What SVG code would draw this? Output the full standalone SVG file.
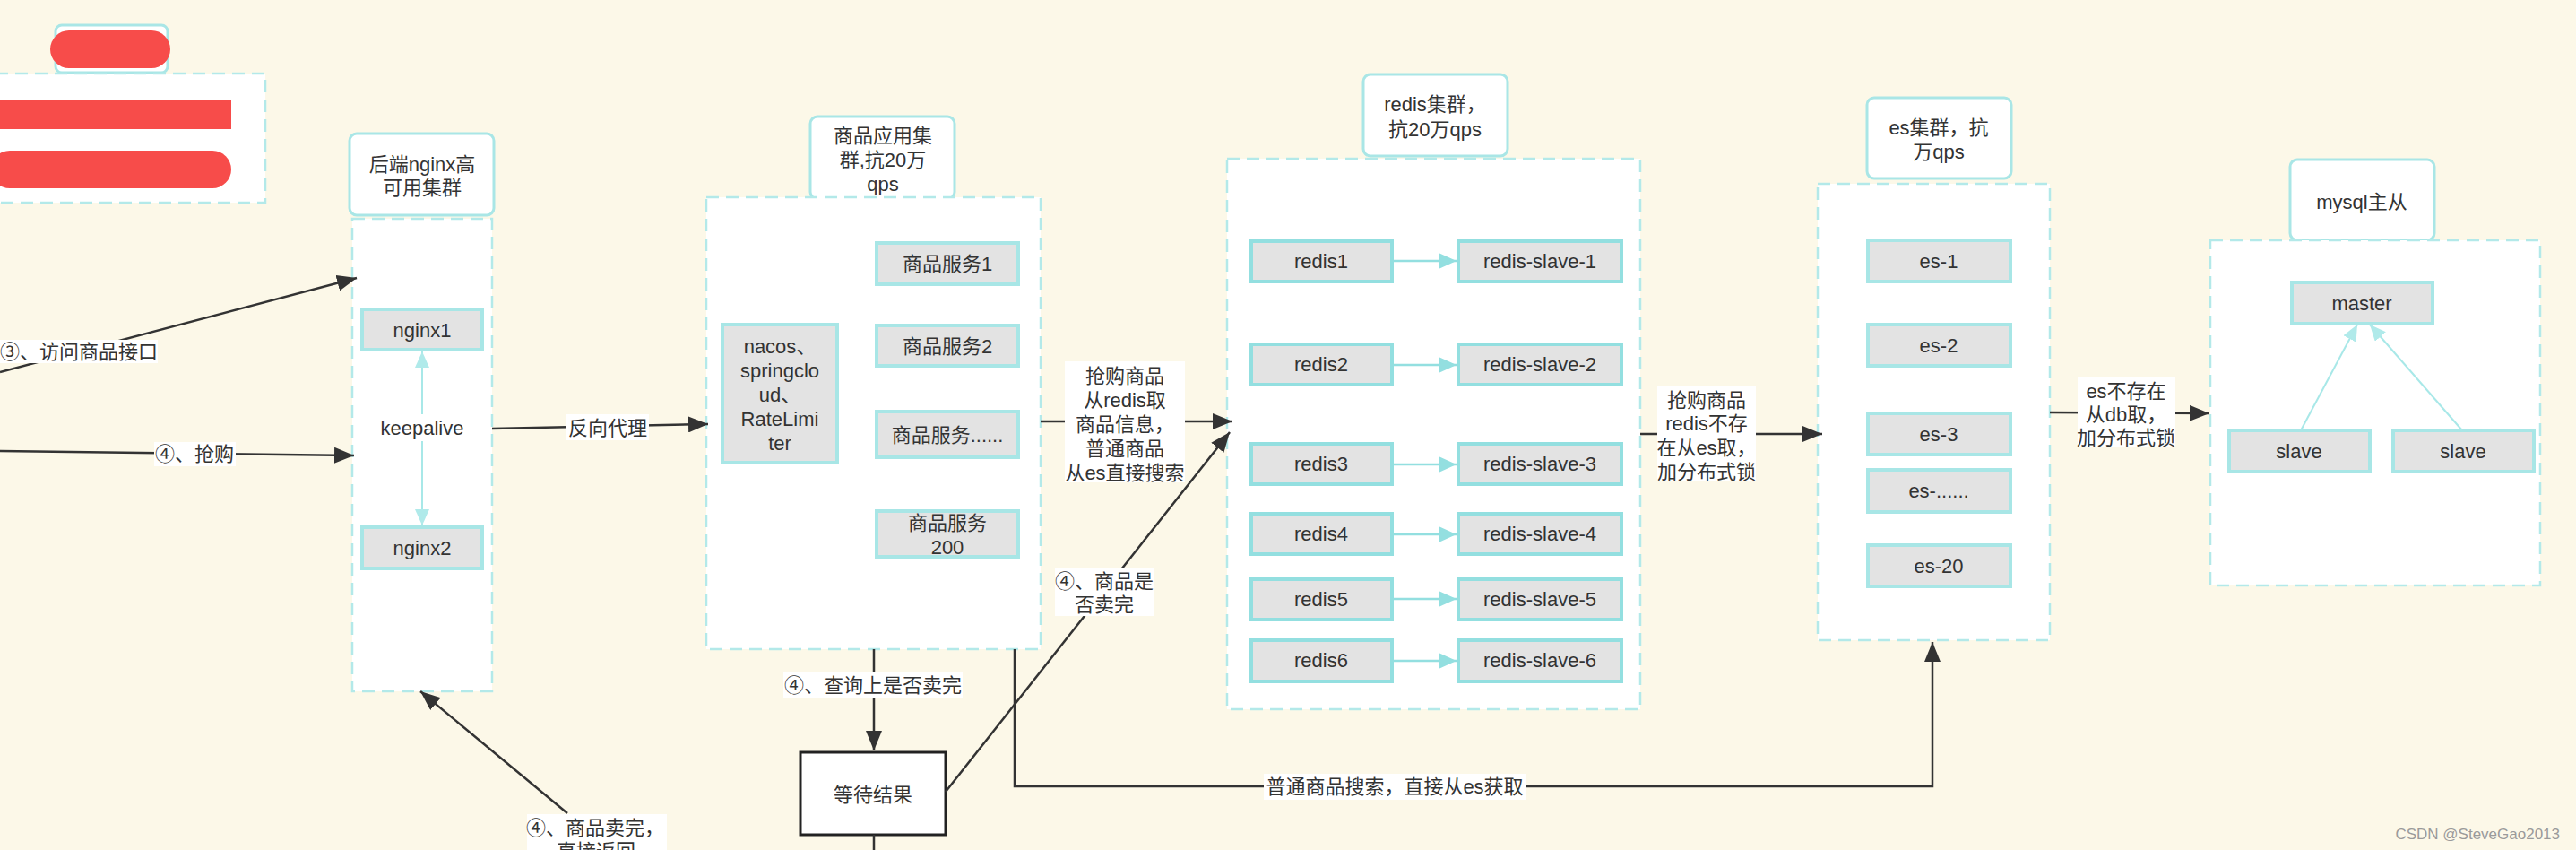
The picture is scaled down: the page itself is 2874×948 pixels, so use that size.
<svg xmlns="http://www.w3.org/2000/svg" width="2874" height="948" viewBox="0 0 2874 948">
<defs>
<style>
.t{font-family:"Liberation Sans","Noto Sans CJK SC",sans-serif;font-size:22px;fill:#333;text-anchor:middle}
.ts{text-anchor:start}
.cont{fill:#fff;stroke:#b3e9e9;stroke-width:2.5;stroke-dasharray:14 8}
.title{fill:#fff;stroke:#a9e6e6;stroke-width:3}
.node{fill:#e3e3e3;stroke:#a8e6e6;stroke-width:4}
.rnode{fill:#e3e3e3;stroke:#93dfe0;stroke-width:4}
.red{fill:#f74c4a}
.lb{fill:#fff}
.c{fill:none;stroke:#333;stroke-width:2.5}
.cy{fill:none;stroke:#a8e8e8;stroke-width:2}
.cr{fill:none;stroke:#93dfe0;stroke-width:2.5}
</style>
<marker id="ab" markerUnits="userSpaceOnUse" markerWidth="24" markerHeight="18" refX="22" refY="9" orient="auto"><path d="M0,0 L22,9 L0,18 Z" fill="#333"/></marker>
<marker id="ac" markerUnits="userSpaceOnUse" markerWidth="20" markerHeight="16" refX="18" refY="8" orient="auto-start-reverse"><path d="M0,0 L18,8 L0,16 Z" fill="#b0eaea"/></marker>
<marker id="ar" markerUnits="userSpaceOnUse" markerWidth="22" markerHeight="18" refX="20" refY="9" orient="auto"><path d="M0,0 L20,9 L0,18 Z" fill="#93dfe0"/></marker>
</defs>
<rect x="0" y="0" width="2874" height="948" fill="#fcf8e8"/>

<g id="redacted">
<rect class="title" x="62" y="28" width="125" height="53" rx="7"/>
<rect class="red" x="56" y="34" width="134" height="42" rx="21"/>
<rect class="cont" x="-5" y="82" width="301" height="144"/>
<rect class="red" x="-2" y="112" width="260" height="32"/>
<rect class="red" x="-10" y="168" width="268" height="42" rx="21"/>
</g>

<g id="nginx-cluster">
<rect class="title" x="390" y="149" width="161" height="91" rx="8"/>
<text class="t" x="471" y="191">后端nginx高</text>
<text class="t" x="471" y="217">可用集群</text>
<rect class="cont" x="393" y="244" width="156" height="527"/>
</g>
<g id="nginx1"><rect class="node" x="404" y="345" width="134" height="45"/><text class="t" x="471" y="376">nginx1</text></g>
<g id="nginx2"><rect class="node" x="404" y="588" width="134" height="46"/><text class="t" x="471" y="619">nginx2</text></g>

<g id="app-cluster">
<rect class="title" x="904" y="130" width="161" height="92" rx="8"/>
<text class="t" x="985" y="159">商品应用集</text>
<text class="t" x="985" y="186">群,抗20万</text>
<text class="t" x="985" y="213">qps</text>
<rect class="cont" x="788" y="220" width="373" height="504"/>
</g>
<g id="nacos"><rect class="node" x="806" y="362" width="128" height="154"/>
<text class="t" x="870" y="394">nacos、</text>
<text class="t" x="870" y="421">springclo</text>
<text class="t" x="870" y="448">ud、</text>
<text class="t" x="870" y="475">RateLimi</text>
<text class="t" x="870" y="502">ter</text></g>
<g id="svc1"><rect class="node" x="978" y="271" width="158" height="46"/><text class="t" x="1057" y="302">商品服务1</text></g>
<g id="svc2"><rect class="node" x="978" y="363" width="158" height="45"/><text class="t" x="1057" y="394">商品服务2</text></g>
<g id="svc3"><rect class="node" x="978" y="459" width="158" height="51"/><text class="t" x="1057" y="493">商品服务......</text></g>
<g id="svc200"><rect class="node" x="978" y="570" width="158" height="51"/><text class="t" x="1057" y="591">商品服务</text><text class="t" x="1057" y="618">200</text></g>

<g id="wait"><rect x="893" y="839" width="162" height="92" fill="#fff" stroke="#222" stroke-width="3"/><text class="t" x="974" y="894">等待结果</text></g>

<g id="redis-cluster">
<rect class="title" x="1521" y="83" width="161" height="91" rx="8"/>
<text class="t" x="1601" y="124">redis集群，</text>
<text class="t" x="1601" y="152">抗20万qps</text>
<rect class="cont" x="1369" y="177" width="461" height="614"/>
</g>
<g id="redis1"><rect class="rnode" x="1396" y="269" width="157" height="45"/><text class="t" x="1474" y="299">redis1</text></g>
<g id="redis2"><rect class="rnode" x="1396" y="384" width="157" height="45"/><text class="t" x="1474" y="414">redis2</text></g>
<g id="redis3"><rect class="rnode" x="1396" y="495" width="157" height="45"/><text class="t" x="1474" y="525">redis3</text></g>
<g id="redis4"><rect class="rnode" x="1396" y="573" width="157" height="45"/><text class="t" x="1474" y="603">redis4</text></g>
<g id="redis5"><rect class="rnode" x="1396" y="646" width="157" height="45"/><text class="t" x="1474" y="676">redis5</text></g>
<g id="redis6"><rect class="rnode" x="1396" y="714" width="157" height="46"/><text class="t" x="1474" y="744">redis6</text></g>
<g id="slave1"><rect class="rnode" x="1627" y="269" width="182" height="45"/><text class="t" x="1718" y="299">redis-slave-1</text></g>
<g id="slave2"><rect class="rnode" x="1627" y="384" width="182" height="45"/><text class="t" x="1718" y="414">redis-slave-2</text></g>
<g id="slave3"><rect class="rnode" x="1627" y="495" width="182" height="45"/><text class="t" x="1718" y="525">redis-slave-3</text></g>
<g id="slave4"><rect class="rnode" x="1627" y="573" width="182" height="45"/><text class="t" x="1718" y="603">redis-slave-4</text></g>
<g id="slave5"><rect class="rnode" x="1627" y="646" width="182" height="45"/><text class="t" x="1718" y="676">redis-slave-5</text></g>
<g id="slave6"><rect class="rnode" x="1627" y="714" width="182" height="46"/><text class="t" x="1718" y="744">redis-slave-6</text></g>

<g id="es-cluster">
<rect class="title" x="2083" y="109" width="161" height="90" rx="8"/>
<text class="t" x="2163" y="150">es集群，抗</text>
<text class="t" x="2163" y="177">万qps</text>
<rect class="cont" x="2028" y="205" width="259" height="509"/>
</g>
<g id="es1"><rect class="node" x="2084" y="268" width="159" height="46"/><text class="t" x="2163" y="299">es-1</text></g>
<g id="es2"><rect class="node" x="2084" y="362" width="159" height="46"/><text class="t" x="2163" y="393">es-2</text></g>
<g id="es3"><rect class="node" x="2084" y="461" width="159" height="46"/><text class="t" x="2163" y="492">es-3</text></g>
<g id="esn"><rect class="node" x="2084" y="524" width="159" height="47"/><text class="t" x="2163" y="555">es-......</text></g>
<g id="es20"><rect class="node" x="2084" y="608" width="159" height="46"/><text class="t" x="2163" y="639">es-20</text></g>

<g id="mysql-cluster">
<rect class="title" x="2555" y="178" width="161" height="90" rx="8"/>
<text class="t" x="2635" y="233">mysql主从</text>
<rect class="cont" x="2466" y="268" width="368" height="385"/>
</g>
<g id="master"><rect class="node" x="2557" y="315" width="157" height="46"/><text class="t" x="2635" y="346">master</text></g>
<g id="slaveA"><rect class="node" x="2487" y="480" width="157" height="46"/><text class="t" x="2565" y="511">slave</text></g>
<g id="slaveB"><rect class="node" x="2670" y="480" width="157" height="46"/><text class="t" x="2748" y="511">slave</text></g>

<g id="connectors">
<line class="c" x1="0" y1="415" x2="398" y2="310" marker-end="url(#ab)"/>
<rect class="lb" x="-2" y="379" width="178" height="26"/>
<text class="t ts" x="0" y="400">③、访问商品接口</text>

<line class="c" x1="0" y1="503" x2="395" y2="508" marker-end="url(#ab)"/>
<rect class="lb" x="172" y="493" width="91" height="27"/>
<text class="t" x="217" y="514">④、抢购</text>

<line class="cy" x1="471" y1="392" x2="471" y2="586" marker-start="url(#ac)" marker-end="url(#ac)"/>
<rect class="lb" x="422" y="462" width="98" height="30"/>
<text class="t" x="471" y="485">keepalive</text>

<line class="c" x1="549" y1="478" x2="790" y2="473" marker-end="url(#ab)"/>
<rect class="lb" x="632" y="462" width="92" height="29"/>
<text class="t" x="678" y="485">反向代理</text>

<line class="c" x1="1161" y1="470" x2="1375" y2="470" marker-end="url(#ab)"/>
<rect class="lb" x="1188" y="403" width="134" height="135"/>
<text class="t" x="1255" y="427">抢购商品</text>
<text class="t" x="1255" y="454">从redis取</text>
<text class="t" x="1255" y="481">商品信息，</text>
<text class="t" x="1255" y="508">普通商品</text>
<text class="t" x="1255" y="535">从es直接搜索</text>

<line class="c" x1="975" y1="724" x2="975" y2="837" marker-end="url(#ab)"/>
<rect class="lb" x="874" y="750" width="200" height="28"/>
<text class="t" x="974" y="772">④、查询上是否卖完</text>
<line class="c" x1="975" y1="931" x2="975" y2="950"/>

<line class="c" x1="1055" y1="883" x2="1372" y2="482" marker-end="url(#ab)"/>
<rect class="lb" x="1177" y="633" width="110" height="54"/>
<text class="t" x="1232" y="656">④、商品是</text>
<text class="t" x="1232" y="682">否卖完</text>

<polyline class="c" points="1132,724 1132,877 2156,877 2156,716" marker-end="url(#ab)"/>
<rect class="lb" x="1410" y="863" width="292" height="29"/>
<text class="t" x="1556" y="885">普通商品搜索，直接从es获取</text>

<line class="c" x1="1830" y1="484" x2="2033" y2="484" marker-end="url(#ab)"/>
<rect class="lb" x="1849" y="430" width="110" height="107"/>
<text class="t" x="1904" y="454">抢购商品</text>
<text class="t" x="1904" y="480">redis不存</text>
<text class="t" x="1904" y="507">在从es取，</text>
<text class="t" x="1904" y="534">加分布式锁</text>

<line class="c" x1="2287" y1="460" x2="2465" y2="461" marker-end="url(#ab)"/>
<rect class="lb" x="2318" y="420" width="109" height="78"/>
<text class="t" x="2372" y="444">es不存在</text>
<text class="t" x="2372" y="470">从db取，</text>
<text class="t" x="2372" y="496">加分布式锁</text>

<line class="c" x1="633" y1="907" x2="469" y2="771" marker-end="url(#ab)"/>
<rect class="lb" x="588" y="908" width="156" height="45"/>
<text class="t" x="664" y="931">④、商品卖完，</text>
<text class="t" x="665" y="957">直接返回</text>

<line class="cr" x1="1553" y1="291" x2="1625" y2="291" marker-end="url(#ar)"/>
<line class="cr" x1="1553" y1="407" x2="1625" y2="407" marker-end="url(#ar)"/>
<line class="cr" x1="1553" y1="518" x2="1625" y2="518" marker-end="url(#ar)"/>
<line class="cr" x1="1553" y1="596" x2="1625" y2="596" marker-end="url(#ar)"/>
<line class="cr" x1="1553" y1="668" x2="1625" y2="668" marker-end="url(#ar)"/>
<line class="cr" x1="1553" y1="737" x2="1625" y2="737" marker-end="url(#ar)"/>

<line class="cy" x1="2567" y1="480" x2="2630" y2="362" marker-end="url(#ac)"/>
<line class="cy" x1="2747" y1="480" x2="2644" y2="362" marker-end="url(#ac)"/>
</g>

<text class="t" x="2856" y="936" style="font-size:17px;fill:#9a9a9a;text-anchor:end">CSDN @SteveGao2013</text>
</svg>
